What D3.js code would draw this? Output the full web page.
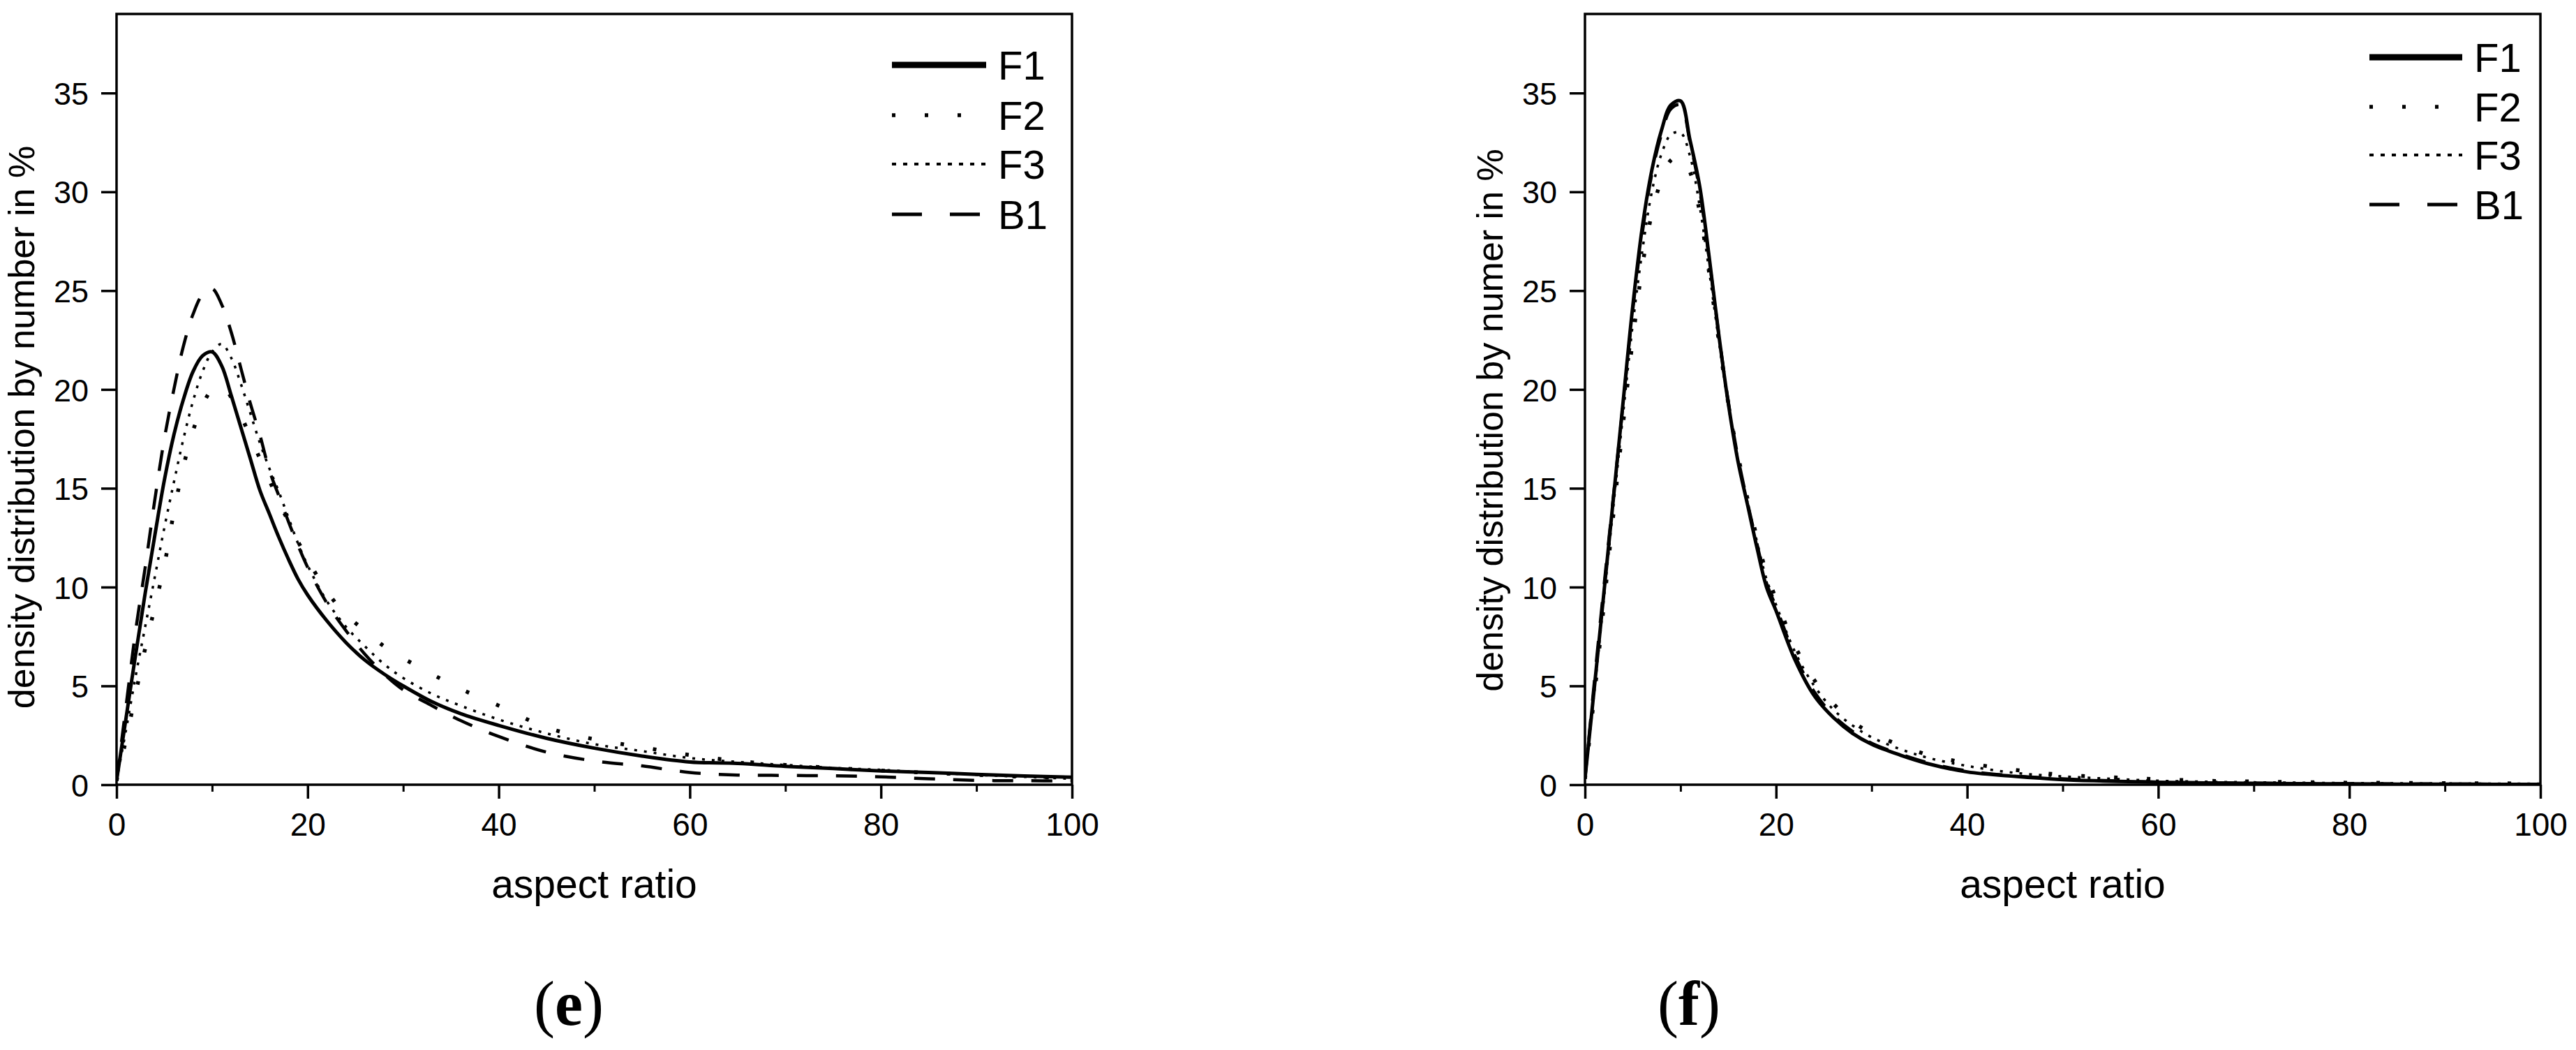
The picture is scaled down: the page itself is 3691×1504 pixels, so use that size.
<!DOCTYPE html>
<html>
<head>
<meta charset="utf-8">
<script src="https://cdn.jsdelivr.net/npm/d3@7"></script>
<style>
html,body{margin:0;padding:0;background:#fff;}
svg{display:block;}
text{font-family:"Liberation Sans", Arial, sans-serif;fill:#000;}
</style>
</head>
<body>
<svg id="chart" width="3691" height="1504"></svg>
<script>
// ---------- data ----------
const aspectRatio = [0,1,2,3,4,5,6,7,8,9,10,11,12,13,14,15,16,17,18,19,20,22,24,26,28,30,33,36,40,45,50,55,60,65,70,75,80,85,90,95,100];

// panel (e)
const eF1 = [0.2,3.4,6.6,9.7,12.6,15.4,17.7,19.5,20.9,21.7,21.9,21.2,19.7,18.1,16.5,14.9,13.7,12.5,11.4,10.4,9.6,8.3,7.2,6.3,5.6,5.0,4.2,3.6,3.0,2.35,1.85,1.45,1.15,1.08,0.93,0.82,0.7,0.62,0.52,0.44,0.38];
const eF2 = [0.2,2.3,4.6,6.9,9.0,11.1,13.8,16.1,17.9,19.2,20.0,20.2,19.6,18.7,17.6,16.5,15.4,14.3,13.3,12.3,11.4,9.8,8.6,7.8,7.0,6.4,5.6,4.85,4.0,2.9,2.3,1.9,1.5,1.2,1.0,0.85,0.72,0.6,0.5,0.4,0.35];
const eF3 = [0.2,2.8,5.5,8.0,10.5,13.0,15.3,17.5,19.4,20.9,21.9,22.3,21.6,20.3,18.8,17.3,16.0,14.8,13.5,12.2,11.1,9.3,8.0,7.0,6.1,5.4,4.6,4.0,3.3,2.6,2.05,1.7,1.35,1.15,1.0,0.85,0.75,0.62,0.5,0.4,0.3];
const eB1 = [0.2,4.0,7.8,11.0,14.4,17.5,20.0,22.2,23.8,24.8,25.1,24.3,22.9,21.1,19.3,17.7,15.9,14.6,13.3,12.1,11.0,9.2,7.8,6.6,5.6,4.8,4.0,3.25,2.44,1.65,1.2,0.95,0.62,0.49,0.47,0.45,0.4,0.3,0.22,0.2,0.2];

// panel (f)
const fF1 = [0.3,5.0,9.8,14.6,19.4,24.2,28.2,31.1,33.1,34.4,34.6,32.6,30.3,26.7,22.8,19.3,16.4,14.2,12.0,10.0,8.8,6.3,4.5,3.4,2.6,2.05,1.5,1.05,0.65,0.42,0.26,0.18,0.12,0.09,0.07,0.05,0.04,0.03,0.03,0.02,0.02];
const fF2 = [0.3,4.6,9.2,13.8,18.3,22.5,26.2,28.9,30.6,31.6,31.8,31.0,29.0,25.9,22.5,19.3,16.7,14.5,12.5,10.7,9.4,7.0,5.3,4.1,3.2,2.6,2.0,1.5,1.1,0.75,0.5,0.38,0.28,0.2,0.16,0.13,0.1,0.09,0.08,0.07,0.06];
const fF3 = [0.3,4.8,9.5,14.2,18.8,23.3,27.0,30.0,31.9,32.9,33.0,31.8,29.3,26.0,22.5,19.2,16.5,14.3,12.3,10.4,9.1,6.7,5.0,3.8,3.0,2.4,1.8,1.35,0.95,0.6,0.42,0.3,0.2,0.15,0.12,0.1,0.08,0.07,0.06,0.05,0.05];
const fB1 = [0.3,5.3,10.1,14.7,19.3,24.0,27.9,30.9,32.9,34.2,34.4,32.5,30.1,26.6,22.8,19.4,16.6,14.3,12.2,10.2,9.0,6.5,4.7,3.5,2.7,2.1,1.55,1.1,0.7,0.45,0.3,0.2,0.13,0.1,0.08,0.06,0.05,0.04,0.04,0.03,0.03];

const seriesNames = ["F1","F2","F3","B1"];
const xMajorTicks = [0,20,40,60,80,100];
const xMinorTicks = [10,30,50,70,90];
const yTicks = [0,5,10,15,20,25,30,35];
const xLabel = "aspect ratio";
const yLabelE = "density distribution by number in %";
const yLabelF = "density distribution by numer in %";
const panelLetters = ["e","f"];

// ---------- styles ----------
const styles = {
  F1: {width:5,   dash:null,     lw:9,   ldash:null},
  F2: {width:5.5, dash:"5,42",   lw:5.5, ldash:"5,42"},
  F3: {width:3.5, dash:"4,10",   lw:4,   ldash:"6,10"},
  B1: {width:4.5, dash:"30,26",  lw:5,   ldash:"43,40"}
};

const svg = d3.select("#chart");

const panels = [
  {x0:167, series:{F1:eF1,F2:eF2,F3:eF3,B1:eB1}, ylab:yLabelE, letter:panelLetters[0], letterX:815,
   leg:{x1:1278,x2:1413,tx:1430,ys:[93,165,235,307]}},
  {x0:2271, series:{F1:fF1,F2:fF2,F3:fF3,B1:fB1}, ylab:yLabelF, letter:panelLetters[1], letterX:2420,
   leg:{x1:3395,x2:3528,tx:3545,ys:[82,153,222,293]}}
];

const W = 1369, yTop = 20, yBot = 1124;

panels.forEach((p, pi) => {
  const x = d3.scaleLinear().domain([0,100]).range([p.x0, p.x0 + W]);
  const y = d3.scaleLinear().domain([0,39]).range([yBot, yTop]);
  const g = svg.append("g");

  const clipId = "clip" + pi;
  svg.append("clipPath").attr("id", clipId).append("rect")
    .attr("x", p.x0).attr("y", yTop).attr("width", W).attr("height", yBot - yTop);

  // curves
  const line = d3.line().x((d,i) => x(aspectRatio[i])).y(d => y(d)).curve(d3.curveCatmullRom.alpha(0.5));
  ["B1","F3","F2","F1"].forEach(name => {
    const st = styles[name];
    g.append("path").datum(p.series[name])
      .attr("d", line)
      .attr("fill","none").attr("stroke","#000")
      .attr("stroke-width", st.width)
      .attr("stroke-dasharray", st.dash)
      .attr("stroke-linejoin","round")
      .attr("clip-path", `url(#${clipId})`);
  });

  // frame
  g.append("rect").attr("x", p.x0).attr("y", yTop).attr("width", W).attr("height", yBot - yTop)
    .attr("fill","none").attr("stroke","#000").attr("stroke-width",3.5);

  // x axis major
  const xa = g.append("g").attr("transform", `translate(0,${yBot})`)
    .call(d3.axisBottom(x).tickValues(xMajorTicks).tickSize(20).tickSizeOuter(0).tickFormat(d3.format("d")));
  xa.select(".domain").remove();
  xa.selectAll(".tick line").attr("stroke-width",3.5);
  xa.selectAll(".tick text").attr("y",73).attr("dy",null).attr("font-size",46)
    .attr("font-family","Liberation Sans, Arial, sans-serif");
  // x axis minor
  const xm = g.append("g").attr("transform", `translate(0,${yBot})`)
    .call(d3.axisBottom(x).tickValues(xMinorTicks).tickSize(10).tickSizeOuter(0).tickFormat(""));
  xm.select(".domain").remove();
  xm.selectAll(".tick line").attr("stroke-width",3);

  // y axis
  const ya = g.append("g").attr("transform", `translate(${p.x0},0)`)
    .call(d3.axisLeft(y).tickValues(yTicks).tickSize(22).tickSizeOuter(0).tickFormat(d3.format("d")));
  ya.select(".domain").remove();
  ya.selectAll(".tick line").attr("stroke-width",3.5);
  ya.selectAll(".tick text").attr("x",-40).attr("dy","0.36em").attr("font-size",45)
    .attr("font-family","Liberation Sans, Arial, sans-serif");

  // axis titles
  g.append("text").attr("x", p.x0 + W/2).attr("y", 1286).attr("text-anchor","middle")
    .attr("font-size",57).text(xLabel);
  g.append("text").attr("transform", `translate(${p.x0 - 118},${612 - pi*10}) rotate(-90)`)
    .attr("text-anchor","middle").attr("font-size",52).text(p.ylab);

  // panel letter
  const lt = g.append("text").attr("x", p.letterX).attr("y", 1468).attr("text-anchor","middle")
    .attr("font-size",90).style("font-family","Liberation Serif, Times New Roman, serif");
  lt.append("tspan").text("(");
  lt.append("tspan").attr("font-weight","bold").text(p.letter);
  lt.append("tspan").text(")");

  // legend
  seriesNames.forEach((name, i) => {
    const st = styles[name];
    const yy = p.leg.ys[i];
    g.append("line").attr("x1", p.leg.x1).attr("x2", p.leg.x2).attr("y1", yy).attr("y2", yy)
      .attr("stroke","#000").attr("stroke-width", st.lw).attr("stroke-dasharray", st.ldash);
    g.append("text").attr("x", p.leg.tx).attr("y", yy).attr("dy","0.36em")
      .attr("font-size",58).text(name);
  });
});
</script>
</body>
</html>
